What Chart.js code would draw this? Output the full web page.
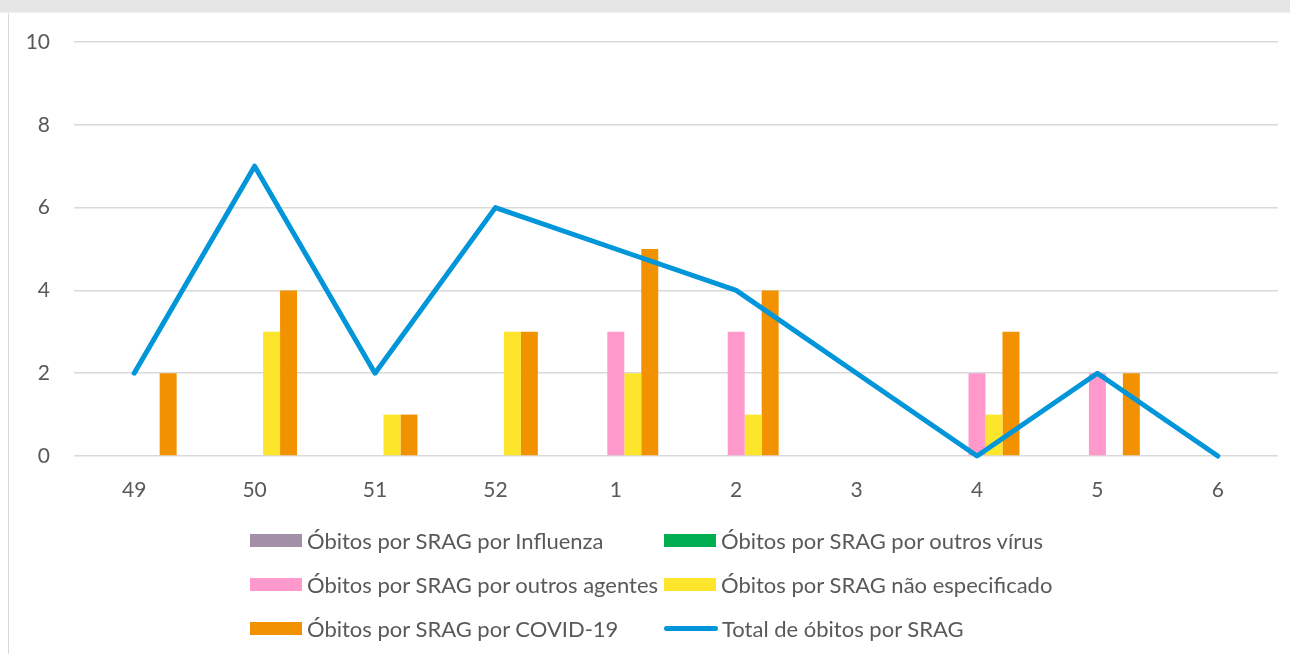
<!DOCTYPE html>
<html>
<head>
<meta charset="utf-8">
<script src="https://cdn.jsdelivr.net/npm/chart.js@4.4.1/dist/chart.umd.min.js"></script>
<style>
    body { margin: 0; background: #fff; width: 1290px; height: 654px; overflow: hidden; font-family: Lato, sans-serif; }
    #band { position: absolute; left: 0; top: 0; width: 1290px; height: 12px; background: #e6e6e6; border-bottom: 1px solid #efefef; }
    #frame { position: absolute; left: 8px; top: 13px; width: 1282px; height: 641px; border-left: 1px solid #d9d9d9; }
    #chartBox { position: absolute; left: 9px; top: 13px; width: 1281px; height: 507px; }
    #legend { position: absolute; left: 0; top: 0; width: 1290px; height: 654px; pointer-events: none; }
    .item { position: absolute; display: flex; align-items: center; height: 30px; color: #595959; font-size: 22px; white-space: nowrap; }
    .swatch { width: 52px; height: 13px; margin-right: 5px; }
    .lineSwatch { width: 54px; height: 5px; border-radius: 3px; margin-right: 4px; }
</style>
</head>
<body>
<div id="band"></div>
<div id="frame"></div>
<div id="chartBox"><canvas id="sragChart"></canvas></div>
<div id="legend"></div>
<script>
    // Semanas epidemiológicas
    const semanas = ['49', '50', '51', '52', '1', '2', '3', '4', '5', '6'];

    // Óbitos por causa
    const influenza      = [0, 0, 0, 0, 0, 0, 0, 0, 0, 0];
    const outrosVirus    = [0, 0, 0, 0, 0, 0, 0, 0, 0, 0];
    const outrosAgentes  = [0, 0, 0, 0, 3, 3, 0, 2, 2, 0];
    const naoEspecificado = [0, 3, 1, 3, 2, 1, 0, 1, 0, 0];
    const covid19        = [2, 4, 1, 3, 5, 4, 0, 3, 2, 0];
    const totalObitos    = [2, 7, 2, 6, 5, 4, 2, 0, 2, 0];

    const yTicks = [0, 2, 4, 6, 8, 10];

    const textColor = '#595959';
    const gridColor = '#d9d9d9';

    function barSet(label, data, color) {
        return {
            type: 'bar',
            label: label,
            data: data,
            backgroundColor: color,
            borderWidth: 0,
            order: 1
        };
    }

    var ctx = document.getElementById('sragChart').getContext('2d');
    var sragChart = new Chart(ctx, {
        data: {
            labels: semanas,
            datasets: [
                barSet('Óbitos por SRAG por Influenza', influenza, '#a28fa8'),
                barSet('Óbitos por SRAG por outros vírus', outrosVirus, '#00ad50'),
                barSet('Óbitos por SRAG por outros agentes', outrosAgentes, '#ff99cc'),
                barSet('Óbitos por SRAG não especificado', naoEspecificado, '#fde52b'),
                barSet('Óbitos por SRAG por COVID-19', covid19, '#f29200'),
                {
                    type: 'line',
                    label: 'Total de óbitos por SRAG',
                    data: totalObitos,
                    borderColor: '#0096d9',
                    backgroundColor: '#0096d9',
                    borderWidth: 5,
                    borderCapStyle: 'round',
                    borderJoinStyle: 'round',
                    pointRadius: 0,
                    tension: 0,
                    clip: false,
                    order: 0
                }
            ]
        },
        options: {
            responsive: true,
            maintainAspectRatio: false,
            animation: false,
            layout: {
                padding: { top: 29, right: 12, bottom: 0, left: 0 }
            },
            datasets: {
                bar: { categoryPercentage: 0.705, barPercentage: 1 }
            },
            plugins: {
                legend: { display: false },
                tooltip: { enabled: false }
            },
            scales: {
                x: {
                    grid: { display: false, drawTicks: false },
                    border: { display: false },
                    ticks: {
                        color: textColor,
                        padding: 22,
                        font: { family: 'Lato', size: 21 }
                    },
                    afterFit: function(scale) { scale.height = 64; }
                },
                y: {
                    min: 0,
                    max: 10,
                    afterBuildTicks: function(scale) {
                        scale.ticks = yTicks.map(function(v) { return { value: v }; });
                    },
                    grid: { color: gridColor, lineWidth: 1.5, drawTicks: false },
                    border: { display: false },
                    ticks: {
                        color: textColor,
                        padding: 24,
                        font: { family: 'Lato', size: 21 }
                    },
                    afterFit: function(scale) {
                        scale.width = 65;
                        scale.paddingTop = 0;
                        scale.paddingBottom = 0;
                    }
                }
            }
        }
    });

    // Legend in two aligned columns, built from the chart's own legend items
    var legendEl = document.getElementById('legend');
    var items = Chart.defaults.plugins.legend.labels.generateLabels(sragChart)
        .sort(function(a, b) { return a.datasetIndex - b.datasetIndex; });
    var colX = [250, 664];
    var rowY = [540, 584, 628];
    items.forEach(function(item, i) {
        var div = document.createElement('div');
        div.className = 'item';
        div.style.left = colX[i % 2] + 'px';
        div.style.top = (rowY[Math.floor(i / 2)] - 15) + 'px';
        var sw = document.createElement('span');
        var ds = sragChart.data.datasets[item.datasetIndex];
        if (ds.type === 'line') {
            sw.className = 'lineSwatch';
            sw.style.background = item.strokeStyle;
        } else {
            sw.className = 'swatch';
            sw.style.background = item.fillStyle;
        }
        div.appendChild(sw);
        div.appendChild(document.createTextNode(item.text));
        legendEl.appendChild(div);
    });
</script>
</body>
</html>
